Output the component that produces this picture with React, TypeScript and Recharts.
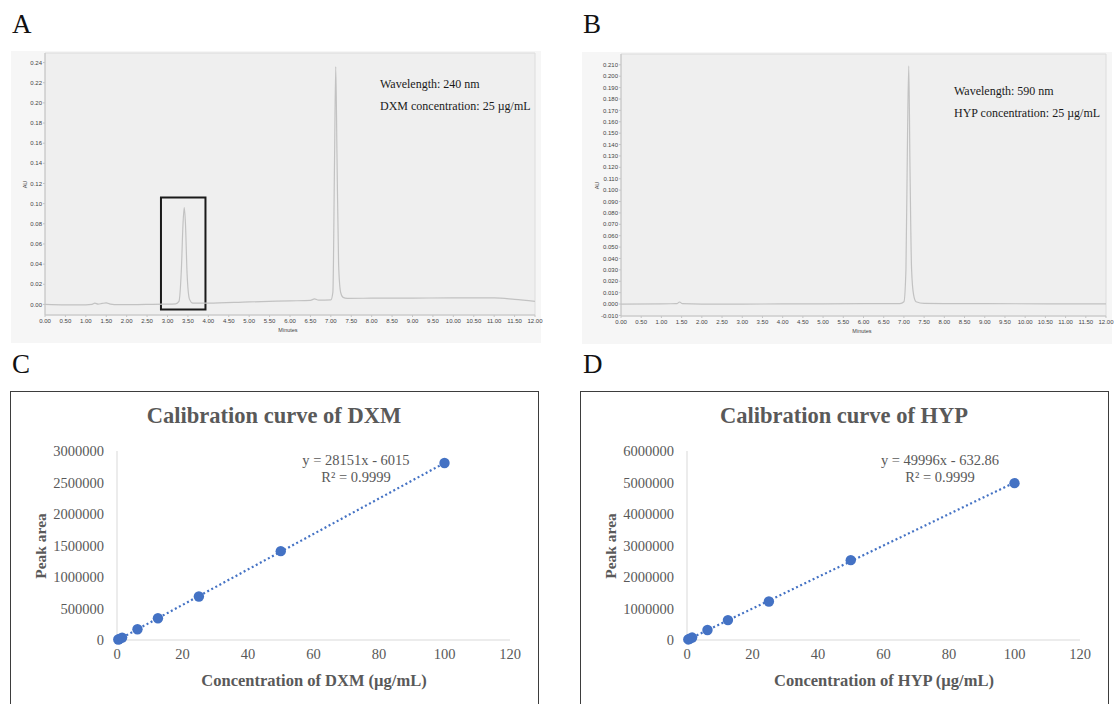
import * as React from "react"
import {
  LineChart,
  Line,
  XAxis,
  YAxis,
  ReferenceArea,
  ScatterChart,
  Scatter,
} from "recharts"

// chromatogram A (240 nm, DXM) — retention time (min) / absorbance (AU)
const timeA = [
  0, 0.5, 1.0, 1.15, 1.22, 1.3, 1.4, 1.5, 1.6, 1.8, 2.5, 2.9, 3.2, 3.28, 3.34, 3.38, 3.41, 3.44, 3.48,
  3.54, 3.62, 4.0, 5.0, 6.0, 6.5, 6.6, 6.7, 7.0, 7.05, 7.09, 7.12, 7.15, 7.19, 7.24, 7.3, 7.4, 8.0,
  9.0, 10.0, 11.0, 11.5, 12.0,
]
const auA = [
  0, -0.0004, -0.0004, 0, 0.0012, 0.0003, 0.001, 0.0015, 0.0003, -0.0003, 0, 0.0003, 0.0006, 0.003,
  0.035, 0.08, 0.096, 0.08, 0.03, 0.005, 0.0012, 0.0012, 0.0025, 0.0035, 0.004, 0.0055, 0.0042,
  0.0045, 0.012, 0.14, 0.236, 0.15, 0.04, 0.012, 0.007, 0.006, 0.0062, 0.0063, 0.0065, 0.0065,
  0.005, 0.003,
]

// chromatogram B (590 nm, HYP)
const timeB = [
  0, 1.0, 1.38, 1.45, 1.52, 2.0, 3.0, 4.0, 5.0, 6.0, 6.9, 7.0, 7.05, 7.09, 7.12, 7.15, 7.19, 7.24,
  7.3, 7.5, 9.0, 12.0,
]
const auB = [
  0, 0.0002, 0.0003, 0.0018, 0.0003, 0, 0, 0.0001, 0.0002, 0.0003, 0.0004, 0.002, 0.03, 0.15,
  0.209, 0.12, 0.03, 0.008, 0.002, 0.0005, 0.0003, 0.0002,
]

const minuteTicks = [
  0, 0.5, 1, 1.5, 2, 2.5, 3, 3.5, 4, 4.5, 5, 5.5, 6, 6.5, 7, 7.5, 8, 8.5, 9, 9.5, 10, 10.5, 11,
  11.5, 12,
]
const auTicksA = [0, 0.02, 0.04, 0.06, 0.08, 0.1, 0.12, 0.14, 0.16, 0.18, 0.2, 0.22, 0.24]
const auTicksB = [
  -0.01, 0, 0.01, 0.02, 0.03, 0.04, 0.05, 0.06, 0.07, 0.08, 0.09, 0.1, 0.11, 0.12, 0.13, 0.14, 0.15,
  0.16, 0.17, 0.18, 0.19, 0.2, 0.21,
]

// calibration curves
const conc = [0.39, 0.78, 1.56, 6.25, 12.5, 25, 50, 100]
const areaDXM = [8000, 17000, 38000, 170000, 345000, 690000, 1410000, 2810000]
const areaHYP = [18000, 38000, 77000, 316000, 631000, 1222000, 2535000, 4980000]
const trendConc = [0.39, 100]
const trendDXM = [5000, 2809000]
const trendHYP = [19000, 4999000]

const concTicks = [0, 20, 40, 60, 80, 100, 120]
const areaTicksDXM = [0, 500000, 1000000, 1500000, 2000000, 2500000, 3000000]
const areaTicksHYP = [0, 1000000, 2000000, 3000000, 4000000, 5000000, 6000000]

const SERIF = "'Liberation Serif', 'Times New Roman', serif"
const SANS = "'Liberation Sans', Arial, sans-serif"
const BLUE = "#4472C4"
const GREY_TXT = "#595959"

const zip = (xs: number[], ys: number[]) => xs.map((x, i) => ({ x, y: ys[i] }))

function PanelLetter({ text, left, top }: { text: string; left: number; top: number }) {
  return (
    <div
      style={{ position: "absolute", left, top, fontSize: 27, lineHeight: 1, fontFamily: SERIF, color: "#111" }}
    >
      {text}
    </div>
  )
}

interface ChromProps {
  left: number
  top: number
  yAxisWidth: number
  time: number[]
  au: number[]
  yTicks: number[]
  yDomain: [number, number]
  digits: number
  notes: string[]
  noteLeft: number
  noteTop: number
  auLeft: number
  minutesCenter: number
  box?: { x1: number; x2: number; y1: number; y2: number }
}

function Chromatogram(p: ChromProps) {
  const W = 530
  const H = 292
  const data = zip(p.time, p.au)
  const tickStyle = { fontSize: 6, fill: "#444", fontFamily: SANS }
  return (
    <div style={{ position: "absolute", left: p.left, top: p.top, width: W, height: H, background: "#f6f6f6" }}>
      <div style={{ position: "absolute", left: 0, top: 0 }}>
        <LineChart width={W + 8} height={H} data={data} margin={{ top: 2, right: 14, left: 0, bottom: 0 }}>
          <ReferenceArea
            x1={0}
            x2={12}
            y1={p.yDomain[0]}
            y2={p.yDomain[1]}
            fill="#efefef"
            fillOpacity={1}
            stroke="#dcdcdc"
            ifOverflow="extendDomain"
          />
          <XAxis
            dataKey="x"
            type="number"
            domain={[0, 12]}
            ticks={minuteTicks}
            interval={0}
            tickFormatter={(v: number) => v.toFixed(2)}
            tick={tickStyle}
            tickSize={2}
            tickMargin={2}
            stroke="#c4c4c4"
            height={28}
          />
          <YAxis
            type="number"
            domain={p.yDomain}
            ticks={p.yTicks}
            interval={0}
            tickFormatter={(v: number) => v.toFixed(p.digits)}
            tick={tickStyle}
            tickSize={2}
            tickMargin={1}
            stroke="#c4c4c4"
            width={p.yAxisWidth}
          />
          {p.box && (
            <ReferenceArea
              x1={p.box.x1}
              x2={p.box.x2}
              y1={p.box.y1}
              y2={p.box.y2}
              fill="none"
              stroke="#1a1a1a"
              strokeWidth={2}
            />
          )}
          <Line
            dataKey="y"
            type="monotone"
            stroke="#c2c2c2"
            strokeWidth={1.2}
            dot={false}
            isAnimationActive={false}
          />
        </LineChart>
      </div>
      <div
        style={{
          position: "absolute",
          left: p.auLeft,
          top: 130,
          fontSize: 5.5,
          lineHeight: "7px",
          fontFamily: SANS,
          color: "#444",
          transform: "rotate(-90deg)",
        }}
      >
        AU
      </div>
      <div
        style={{
          position: "absolute",
          left: p.minutesCenter - 40,
          width: 80,
          textAlign: "center",
          top: 276,
          fontSize: 5.5,
          fontFamily: SANS,
          color: "#444",
        }}
      >
        Minutes
      </div>
      {p.notes.map((n, i) => (
        <div
          key={n}
          style={{
            position: "absolute",
            left: p.noteLeft,
            top: p.noteTop + i * 21.5,
            fontSize: 12,
            fontFamily: SERIF,
            color: "#1a1a1a",
            whiteSpace: "nowrap",
          }}
        >
          {n}
        </div>
      ))}
    </div>
  )
}

interface CalProps {
  left: number
  title: string
  xLabel: string
  areas: number[]
  trend: number[]
  yTicks: number[]
  equation: string[]
  eqCenter: number
}

function Calibration(p: CalProps) {
  const W = 529
  const H = 318
  const points = zip(conc, p.areas)
  const line = zip(trendConc, p.trend)
  const tickStyle = { fontSize: 14.5, fill: GREY_TXT, fontFamily: SERIF }
  const yMax = p.yTicks[p.yTicks.length - 1]
  return (
    <div
      style={{
        position: "absolute",
        left: p.left,
        top: 391,
        width: W,
        height: H,
        border: "1.5px solid #3d3d3d",
        boxSizing: "border-box",
        background: "#fff",
      }}
    >
      <div
        style={{
          position: "absolute",
          left: 0,
          width: W - 3,
          top: 11,
          textAlign: "center",
          fontSize: 22.5,
          fontWeight: "bold",
          fontFamily: SERIF,
          color: GREY_TXT,
        }}
      >
        {p.title}
      </div>
      <ScatterChart width={W - 3} height={H - 3} margin={{ top: 59, right: 27, left: 0, bottom: 0 }}>
        <XAxis
          dataKey="x"
          type="number"
          domain={[0, 120]}
          ticks={concTicks}
          interval={0}
          tick={tickStyle}
          tickLine={false}
          tickSize={0}
          tickMargin={9}
          stroke="#d9d9d9"
          height={67}
        />
        <YAxis
          dataKey="y"
          type="number"
          domain={[0, yMax]}
          ticks={p.yTicks}
          interval={0}
          tick={tickStyle}
          tickLine={false}
          tickSize={0}
          tickMargin={13}
          stroke="#d9d9d9"
          width={106}
        />
        <Scatter
          data={line}
          line={{ stroke: BLUE, strokeWidth: 2.2, strokeDasharray: "2 2.6" }}
          shape={() => <g />}
          isAnimationActive={false}
        />
        <Scatter
          data={points}
          fill={BLUE}
          shape={(s: any) => <circle cx={s.cx} cy={s.cy} r={5.2} fill={BLUE} />}
          isAnimationActive={false}
        />
      </ScatterChart>
      <div
        style={{
          position: "absolute",
          left: p.eqCenter - 100,
          width: 200,
          top: 60,
          textAlign: "center",
          fontSize: 14.5,
          lineHeight: "17px",
          fontFamily: SERIF,
          color: GREY_TXT,
        }}
      >
        {p.equation.map((e) => (
          <div key={e}>{e}</div>
        ))}
      </div>
      <div
        style={{
          position: "absolute",
          left: 30 - 60,
          width: 120,
          top: 145,
          textAlign: "center",
          fontSize: 15.5,
          fontWeight: "bold",
          fontFamily: SERIF,
          color: GREY_TXT,
          transform: "rotate(-90deg)",
        }}
      >
        Peak area
      </div>
      <div
        style={{
          position: "absolute",
          left: 0,
          width: W - 3,
          paddingLeft: 80,
          boxSizing: "border-box",
          top: 279,
          textAlign: "center",
          fontSize: 16.5,
          fontWeight: "bold",
          fontFamily: SERIF,
          color: GREY_TXT,
        }}
      >
        {p.xLabel}
      </div>
    </div>
  )
}

export default function App() {
  return (
    <div
      style={{
        position: "absolute",
        left: 0,
        top: 0,
        width: 1114,
        height: 704,
        overflow: "hidden",
        background: "#fff",
      }}
    >
      <PanelLetter text="A" left={12} top={11} />
      <PanelLetter text="B" left={583} top={11} />
      <PanelLetter text="C" left={12} top={351} />
      <PanelLetter text="D" left={583} top={351} />

      <Chromatogram
        left={11}
        top={51}
        yAxisWidth={34}
        time={timeA}
        au={auA}
        yTicks={auTicksA}
        yDomain={[-0.0105, 0.2495]}
        digits={2}
        notes={["Wavelength: 240 nm", "DXM concentration: 25 µg/mL"]}
        noteLeft={369}
        noteTop={26}
        auLeft={11}
        minutesCenter={277}
        box={{ x1: 2.84, x2: 3.93, y1: -0.005, y2: 0.106 }}
      />
      <Chromatogram
        left={582}
        top={52}
        yAxisWidth={39}
        time={timeB}
        au={auB}
        yTicks={auTicksB}
        yDomain={[-0.0105, 0.2195]}
        digits={3}
        notes={["Wavelength: 590 nm", "HYP concentration: 25 µg/mL"]}
        noteLeft={372}
        noteTop={32}
        auLeft={12}
        minutesCenter={280}
      />

      <Calibration
        left={10}
        title="Calibration curve of DXM"
        xLabel="Concentration of DXM (µg/mL)"
        areas={areaDXM}
        trend={trendDXM}
        yTicks={areaTicksDXM}
        equation={["y = 28151x - 6015", "R² = 0.9999"]}
        eqCenter={345}
      />
      <Calibration
        left={580}
        title="Calibration curve of HYP"
        xLabel="Concentration of HYP (µg/mL)"
        areas={areaHYP}
        trend={trendHYP}
        yTicks={areaTicksHYP}
        equation={["y = 49996x - 632.86", "R² = 0.9999"]}
        eqCenter={359}
      />
    </div>
  )
}
